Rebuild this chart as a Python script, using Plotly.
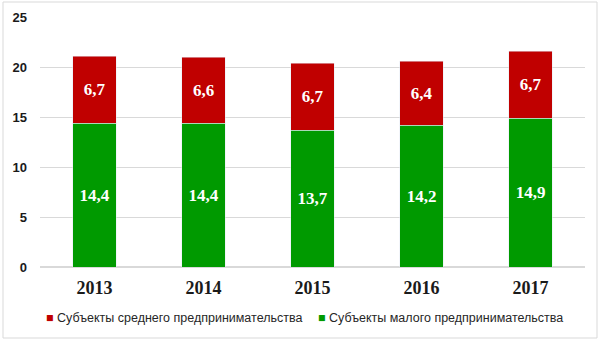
import plotly.graph_objects as go

years = ["2013", "2014", "2015", "2016", "2017"]
small = [14.4, 14.4, 13.7, 14.2, 14.9]
medium = [6.7, 6.6, 6.7, 6.4, 6.7]
small_name = "Субъекты малого предпринимательства"
medium_name = "Субъекты среднего предпринимательства"
small_color = "#009A00"
medium_color = "#C00000"

def fmt(v):
    return f"{v:.1f}".replace(".", ",")

fig = go.Figure()
fig.add_trace(go.Bar(
    x=years, y=small, name=small_name, marker_color=small_color,
    text=[fmt(v) for v in small], textposition="inside", insidetextanchor="middle",
    textfont=dict(family="Liberation Serif", size=17, color="white", weight="bold"),
))
fig.add_trace(go.Bar(
    x=years, y=medium, name=medium_name, marker_color=medium_color,
    text=[fmt(v) for v in medium], textposition="inside", insidetextanchor="middle",
    textfont=dict(family="Liberation Serif", size=17, color="white", weight="bold"),
))

L, R, T, B = 40, 17, 17, 75
W, H = 602, 342
pw, ph = W - L - R, H - T - B

def px_x(p):
    return (p - L) / pw

def px_y(p):
    return (H - B - p) / ph

legend_font = dict(family="Liberation Sans", size=12.5, color="#262626")
annotations = [
    dict(xref="paper", yref="paper", x=px_x(44), y=px_y(318), xanchor="left", yanchor="middle",
         showarrow=False, font=legend_font,
         text=f"<span style='color:{medium_color}'>■</span> {medium_name}"),
    dict(xref="paper", yref="paper", x=px_x(316), y=px_y(318), xanchor="left", yanchor="middle",
         showarrow=False, font=legend_font,
         text=f"<span style='color:{small_color}'>■</span> {small_name}"),
]

fig.update_layout(
    width=W, height=H,
    margin=dict(l=L, r=R, t=T, b=B, autoexpand=False),
    barmode="stack", bargap=0.6,
    plot_bgcolor="white", paper_bgcolor="white",
    showlegend=False,
    annotations=annotations,
    xaxis=dict(tickfont=dict(family="Liberation Serif", size=18, color="#1a1a1a", weight="bold"),
               showgrid=False, ticks="", ticklabelstandoff=8, automargin=False),
    yaxis=dict(range=[0, 25], dtick=5, showgrid=True, gridcolor="#D9D9D9", gridwidth=1,
               zeroline=True, zerolinecolor="#D9D9D9", ticklabelstandoff=12, automargin=False,
               tickfont=dict(family="Liberation Sans", size=13, color="#1a1a1a", weight="bold")),
    shapes=[dict(type="rect", xref="paper", yref="paper",
                 x0=px_x(3), x1=px_x(597), y0=px_y(338), y1=px_y(2),
                 line=dict(color="#D9D9D9", width=1), fillcolor="rgba(0,0,0,0)", layer="below")],
)

fig.write_html("out.html")
